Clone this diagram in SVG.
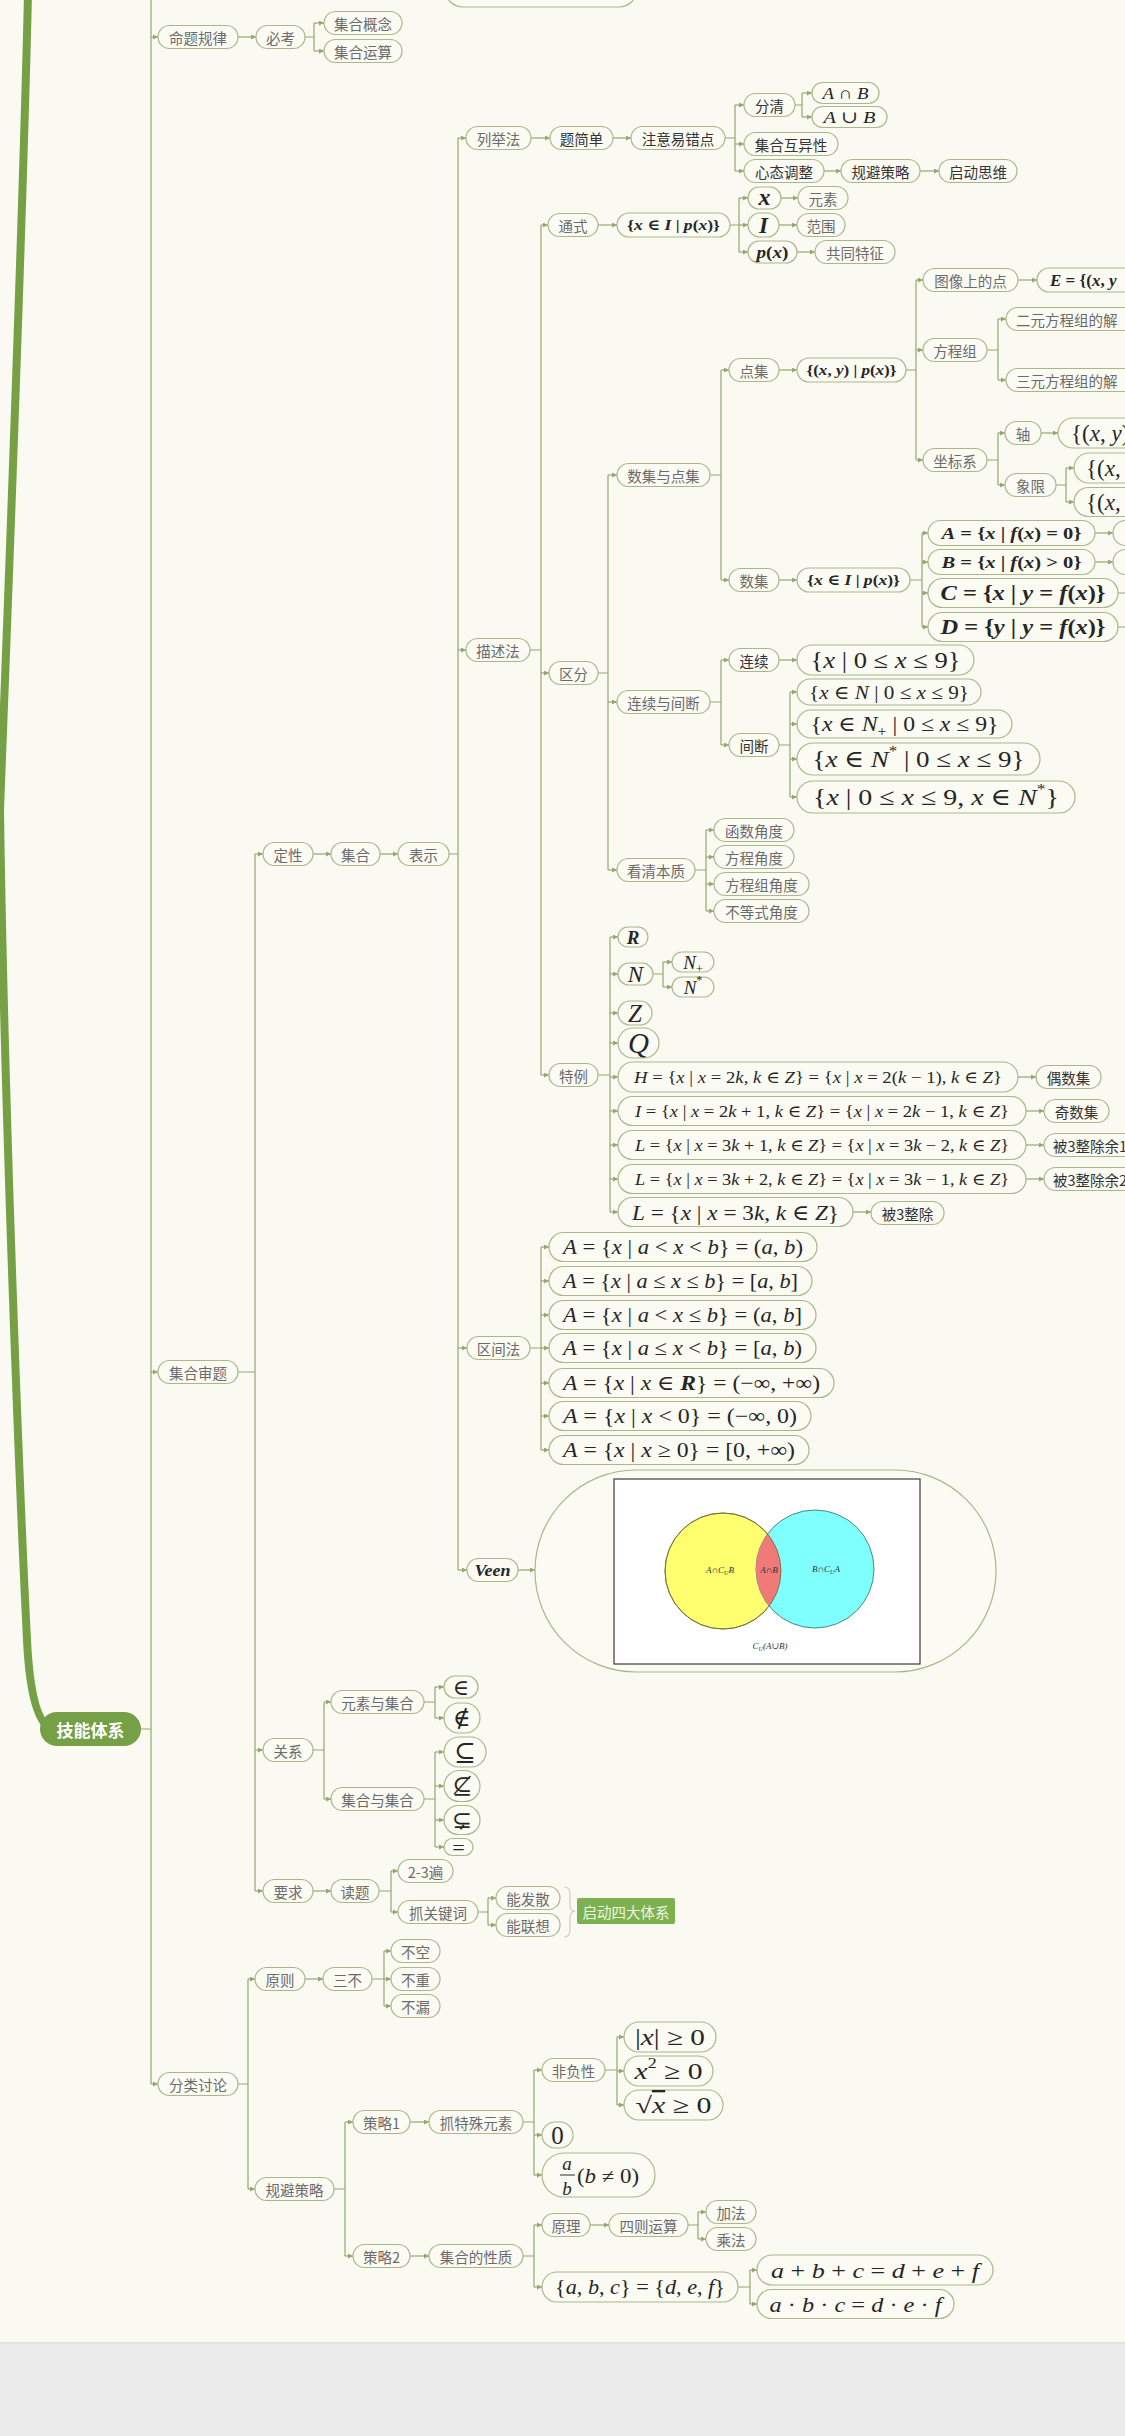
<svg xmlns="http://www.w3.org/2000/svg" width="1125" height="2436" viewBox="0 0 1125 2436">
<style>
.n rect{fill:#fbfbf4;stroke:#a8b88a;stroke-width:1.2}
.t{font-family:"Noto Sans CJK SC","Noto Sans",sans-serif;font-size:14.5px;fill:#6b6b6b;text-anchor:middle;dominant-baseline:central}
.d{fill:#333}
.m{font-family:"Liberation Serif","DejaVu Serif",serif;fill:#262626;text-anchor:middle;dominant-baseline:central}
.v{font-style:italic}
.b{font-weight:bold}
.s{text-anchor:start}
.c path{fill:none;stroke:#93a86e;stroke-width:1.2}
.c .a{marker-end:url(#ah)}
.vl{font-family:"Liberation Serif","DejaVu Serif",serif;font-size:9px;font-style:italic;fill:#333;text-anchor:middle;dominant-baseline:central}
</style>
<defs>
<marker id="ah" viewBox="0 0 6 6" refX="6" refY="3" markerWidth="5" markerHeight="5" markerUnits="userSpaceOnUse" orient="auto"><path d="M0 0L6 3L0 6z" fill="#93a86e"/></marker>
<clipPath id="yc"><circle cx="723" cy="1571" r="58"/></clipPath>
</defs>
<rect width="1125" height="2436" fill="#fafaf2"/>
<rect y="2343" width="1125" height="93" fill="#ebebeb"/>
<line x1="0" y1="2343" x2="1125" y2="2343" stroke="#e2e2de" stroke-width="2"/>

<path d="M28 -5C22 250 8 600 0 810C4 1100 20 1500 27 1640Q31 1722 52 1729" fill="none" stroke="#76a045" stroke-width="8"/>

<g id="connectors" class="c">
<path d="M151 0V2084M141 1729H151"/>
<path d="M305 37H314M314 23V51"/>
<path d="M238 1372H255M255 854V1891"/>
<path d="M449 854H458M458 138V1570"/>
<path d="M725 138H735M735 105V171"/>
<path d="M795 105H802M802 93V117"/>
<path d="M530 650H541M541 225V1075"/>
<path d="M730 225H739M739 198V252"/>
<path d="M598 673H608M608 475V870"/>
<path d="M710 475H721M721 370V580"/>
<path d="M906 370H916M916 280V460"/>
<path d="M987 350H998M998 319V380"/>
<path d="M987 460H998M998 433V485"/>
<path d="M1056 485H1066M1066 468V502"/>
<path d="M910 580H922M922 533V627"/>
<path d="M1118 593H1125M1118 627H1125"/>
<path d="M710 702H721M721 660V745"/>
<path d="M779 745H790M790 692V797"/>
<path d="M695 870H706M706 830V911"/>
<path d="M598 1075H610M610 937V1212"/>
<path d="M653 974H663M663 962V987"/>
<path d="M530 1348H541M541 1247V1450"/>
<path d="M313 1750H324M324 1702V1799"/>
<path d="M424 1702H435M435 1687V1718"/>
<path d="M424 1799H435M435 1752V1847"/>
<path d="M379 1891H391M391 1871V1912"/>
<path d="M478 1912H488M488 1898V1925"/>
<path d="M238 2084H248M248 1979V2189"/>
<path d="M372 1979H384M384 1951V2006"/>
<path d="M334 2189H345M345 2122V2256"/>
<path d="M523 2122H534M534 2070V2175"/>
<path d="M605 2070H617M617 2037V2105"/>
<path d="M523 2256H534M534 2225V2287"/>
<path d="M688 2225H698M698 2212V2239"/>
<path d="M738 2287H750M750 2270V2304"/>
<path class="a" d="M151 37H158"/><path class="a" d="M151 1372H158"/><path class="a" d="M151 2084H158"/>
<path class="a" d="M238 37H256"/>
<path class="a" d="M314 23H324"/><path class="a" d="M314 51H324"/>
<path class="a" d="M255 854H263"/><path class="a" d="M255 1750H263"/><path class="a" d="M255 1891H263"/>
<path class="a" d="M313 854H331"/><path class="a" d="M380 854H398"/>
<path class="a" d="M458 138H466"/><path class="a" d="M458 650H466"/><path class="a" d="M458 1348H467"/><path class="a" d="M458 1570H467"/>
<path class="a" d="M531 138H550"/><path class="a" d="M613 138H631"/>
<path class="a" d="M735 105H744"/><path class="a" d="M735 144H744"/><path class="a" d="M735 171H744"/>
<path class="a" d="M802 93H812"/><path class="a" d="M802 117H812"/>
<path class="a" d="M824 171H841"/><path class="a" d="M920 171H939"/>
<path class="a" d="M541 225H548"/><path class="a" d="M541 673H549"/><path class="a" d="M541 1075H549"/>
<path class="a" d="M598 225H617"/>
<path class="a" d="M739 198H748"/><path class="a" d="M739 225H748"/><path class="a" d="M739 252H748"/>
<path class="a" d="M781 198H798"/><path class="a" d="M779 225H797"/><path class="a" d="M797 252H815"/>
<path class="a" d="M608 475H617"/><path class="a" d="M608 702H617"/><path class="a" d="M608 870H617"/>
<path class="a" d="M721 370H729"/><path class="a" d="M721 580H729"/>
<path class="a" d="M779 370H797"/>
<path class="a" d="M916 280H923"/><path class="a" d="M916 350H923"/><path class="a" d="M916 460H923"/>
<path class="a" d="M1018 280H1037"/>
<path class="a" d="M998 319H1006"/><path class="a" d="M998 380H1006"/>
<path class="a" d="M998 433H1005"/><path class="a" d="M998 485H1005"/>
<path class="a" d="M1041 433H1058"/>
<path class="a" d="M1066 468H1074"/><path class="a" d="M1066 502H1074"/>
<path class="a" d="M779 580H797"/>
<path class="a" d="M922 533H928"/><path class="a" d="M922 562H928"/><path class="a" d="M922 593H928"/><path class="a" d="M922 627H928"/>
<path class="a" d="M1095 533H1113"/><path class="a" d="M1095 562H1113"/>
<path class="a" d="M721 660H729"/><path class="a" d="M721 745H729"/>
<path class="a" d="M779 660H797"/>
<path class="a" d="M790 692H797"/><path class="a" d="M790 724H797"/><path class="a" d="M790 759H797"/><path class="a" d="M790 797H797"/>
<path class="a" d="M706 830H714"/><path class="a" d="M706 857H714"/><path class="a" d="M706 884H714"/><path class="a" d="M706 911H714"/>
<path class="a" d="M610 937H618"/><path class="a" d="M610 974H618"/><path class="a" d="M610 1013H618"/><path class="a" d="M610 1043H618"/><path class="a" d="M610 1077H618"/><path class="a" d="M610 1111H618"/><path class="a" d="M610 1145H618"/><path class="a" d="M610 1179H618"/><path class="a" d="M610 1212H618"/>
<path class="a" d="M663 962H672"/><path class="a" d="M663 987H672"/>
<path class="a" d="M1018 1077H1036"/><path class="a" d="M1026 1111H1044"/><path class="a" d="M1026 1145H1044"/><path class="a" d="M1026 1179H1044"/><path class="a" d="M853 1212H871"/>
<path class="a" d="M541 1247H549"/><path class="a" d="M541 1281H549"/><path class="a" d="M541 1315H549"/><path class="a" d="M541 1348H549"/><path class="a" d="M541 1383H549"/><path class="a" d="M541 1416H549"/><path class="a" d="M541 1450H549"/>
<path class="a" d="M518 1570H535"/>
<path class="a" d="M324 1702H331"/><path class="a" d="M324 1799H331"/>
<path class="a" d="M435 1687H444"/><path class="a" d="M435 1718H444"/><path class="a" d="M435 1752H444"/><path class="a" d="M435 1786H444"/><path class="a" d="M435 1820H444"/><path class="a" d="M435 1847H444"/>
<path class="a" d="M313 1891H331"/>
<path class="a" d="M391 1871H398"/><path class="a" d="M391 1912H398"/>
<path class="a" d="M488 1898H496"/><path class="a" d="M488 1925H496"/>
<path class="a" d="M248 1979H255"/><path class="a" d="M248 2189H255"/>
<path class="a" d="M305 1979H323"/>
<path class="a" d="M384 1951H391"/><path class="a" d="M384 1979H391"/><path class="a" d="M384 2006H391"/>
<path class="a" d="M345 2122H353"/><path class="a" d="M345 2256H353"/>
<path class="a" d="M410 2122H429"/><path class="a" d="M410 2256H429"/>
<path class="a" d="M534 2070H542"/><path class="a" d="M534 2135H542"/><path class="a" d="M534 2175H542"/>
<path class="a" d="M617 2037H624"/><path class="a" d="M617 2071H624"/><path class="a" d="M617 2105H624"/>
<path class="a" d="M534 2225H542"/><path class="a" d="M534 2287H542"/>
<path class="a" d="M590 2225H609"/>
<path class="a" d="M698 2212H706"/><path class="a" d="M698 2239H706"/>
<path class="a" d="M750 2270H757"/><path class="a" d="M750 2304H757"/>
</g>

<g id="n-top" class="n"><rect x="445" y="-30" width="192" height="37" rx="18"/></g>
<g id="n-mtgl" class="n"><rect x="158" y="25.5" width="80" height="23" rx="11.5"/><text class="t" x="198" y="37">命题规律</text></g>
<g id="n-bk" class="n"><rect x="256" y="25.5" width="49" height="23" rx="11.5"/><text class="t" x="280.5" y="37">必考</text></g>
<g id="n-jhgn" class="n"><rect x="324" y="11.5" width="78" height="23" rx="11.5"/><text class="t" x="363" y="23">集合概念</text></g>
<g id="n-jhys" class="n"><rect x="324" y="39.5" width="78" height="23" rx="11.5"/><text class="t" x="363" y="51">集合运算</text></g>

<g id="n-lje" class="n"><rect x="466" y="126.5" width="65" height="23" rx="11.5"/><text class="t" x="498.5" y="138">列举法</text></g>
<g id="n-tjd" class="n"><rect x="550" y="126.5" width="63" height="23" rx="11.5"/><text class="t d" x="581.5" y="138">题简单</text></g>
<g id="n-zyycd" class="n"><rect x="631" y="126.5" width="94" height="23" rx="11.5"/><text class="t d" x="678" y="138">注意易错点</text></g>
<g id="n-fq" class="n"><rect x="744" y="93.5" width="51" height="23" rx="11.5"/><text class="t d" x="769.5" y="105">分清</text></g>
<g id="n-anb" class="n"><rect x="812" y="82.5" width="67" height="21" rx="10.5"/><text class="m" x="845.5" y="93" style="font-size:17px" textLength="46" lengthAdjust="spacingAndGlyphs"><tspan class="v">A</tspan> ∩ <tspan class="v">B</tspan></text></g>
<g id="n-aub" class="n"><rect x="812" y="106.5" width="75" height="21" rx="10.5"/><text class="m" x="849.5" y="117" style="font-size:17px" textLength="52" lengthAdjust="spacingAndGlyphs"><tspan class="v">A</tspan> ∪ <tspan class="v">B</tspan></text></g>
<g id="n-jhhyx" class="n"><rect x="744" y="132.5" width="94" height="23" rx="11.5"/><text class="t d" x="791" y="144">集合互异性</text></g>
<g id="n-xttz" class="n"><rect x="744" y="159.5" width="80" height="23" rx="11.5"/><text class="t d" x="784" y="171">心态调整</text></g>
<g id="n-gbcl1" class="n"><rect x="841" y="159.5" width="79" height="23" rx="11.5"/><text class="t d" x="880.5" y="171">规避策略</text></g>
<g id="n-qdsw" class="n"><rect x="939" y="159.5" width="78" height="23" rx="11.5"/><text class="t d" x="978" y="171">启动思维</text></g>

<g id="n-msf" class="n"><rect x="466" y="638.5" width="64" height="23" rx="11.5"/><text class="t" x="498" y="650">描述法</text></g>
<g id="n-ts" class="n"><rect x="548" y="213.5" width="50" height="23" rx="11.5"/><text class="t" x="573" y="225">通式</text></g>
<g id="n-set1" class="n"><rect x="617" y="213" width="113" height="24" rx="12"/><text class="m b" x="673.5" y="225" style="font-size:15px" textLength="93" lengthAdjust="spacingAndGlyphs">{<tspan class="v">x</tspan> ∈ <tspan class="v">I</tspan> | <tspan class="v">p</tspan>(<tspan class="v">x</tspan>)}</text></g>
<g id="n-x" class="n"><rect x="748" y="187" width="33" height="22" rx="11"/><text class="m v b" x="764.5" y="197" style="font-size:24px">x</text></g>
<g id="n-ys" class="n"><rect x="798" y="186.5" width="50" height="23" rx="11.5"/><text class="t" x="823" y="198">元素</text></g>
<g id="n-I" class="n"><rect x="748" y="213" width="31" height="24" rx="12"/><text class="m v b" x="763.5" y="225" style="font-size:23px">I</text></g>
<g id="n-fw" class="n"><rect x="797" y="213.5" width="48" height="23" rx="11.5"/><text class="t" x="821" y="225">范围</text></g>
<g id="n-px" class="n"><rect x="748" y="241" width="49" height="22" rx="11"/><text class="m b" x="772.5" y="252" style="font-size:16px" textLength="32" lengthAdjust="spacingAndGlyphs"><tspan class="v">p</tspan>(<tspan class="v">x</tspan>)</text></g>
<g id="n-gttz" class="n"><rect x="815" y="240.5" width="80" height="23" rx="11.5"/><text class="t" x="855" y="252">共同特征</text></g>

<g id="n-qf" class="n"><rect x="549" y="661.5" width="49" height="23" rx="11.5"/><text class="t" x="573.5" y="673">区分</text></g>
<g id="n-sjydj" class="n"><rect x="617" y="463.5" width="93" height="23" rx="11.5"/><text class="t" x="663.5" y="475">数集与点集</text></g>
<g id="n-dj" class="n"><rect x="729" y="358.5" width="50" height="23" rx="11.5"/><text class="t" x="754" y="370">点集</text></g>
<g id="n-dset" class="n"><rect x="797" y="358" width="109" height="24" rx="12"/><text class="m b" x="851.5" y="370" style="font-size:14px" textLength="90" lengthAdjust="spacingAndGlyphs">{(<tspan class="v">x</tspan>, <tspan class="v">y</tspan>) | <tspan class="v">p</tspan>(<tspan class="v">x</tspan>)}</text></g>
<g id="n-txsdd" class="n"><rect x="923" y="268.5" width="95" height="23" rx="11.5"/><text class="t" x="970.5" y="280">图像上的点</text></g>
<g id="n-E" class="n"><rect x="1037" y="268" width="200" height="24" rx="12"/><text class="m b s" x="1050" y="280" style="font-size:17px"><tspan class="v">E</tspan> = {(<tspan class="v">x</tspan>, <tspan class="v">y</tspan></text></g>
<g id="n-fcz" class="n"><rect x="923" y="338.5" width="64" height="23" rx="11.5"/><text class="t" x="955" y="350">方程组</text></g>
<g id="n-eyfcz" class="n"><rect x="1006" y="307.5" width="140" height="23" rx="11.5"/><text class="t s" x="1016" y="319">二元方程组的解</text></g>
<g id="n-syfcz" class="n"><rect x="1006" y="368.5" width="140" height="23" rx="11.5"/><text class="t s" x="1016" y="380">三元方程组的解</text></g>
<g id="n-zbx" class="n"><rect x="923" y="448.5" width="64" height="23" rx="11.5"/><text class="t" x="955" y="460">坐标系</text></g>
<g id="n-z" class="n"><rect x="1005" y="421.5" width="36" height="23" rx="11.5"/><text class="t" x="1023" y="433">轴</text></g>
<g id="n-zset" class="n"><rect x="1058" y="418" width="150" height="30" rx="15"/><text class="m s" x="1071" y="433" style="font-size:23px">{(<tspan class="v">x</tspan>, <tspan class="v">y</tspan>)</text></g>
<g id="n-xx" class="n"><rect x="1005" y="473.5" width="51" height="23" rx="11.5"/><text class="t" x="1030.5" y="485">象限</text></g>
<g id="n-xset1" class="n"><rect x="1074" y="453" width="120" height="30" rx="15"/><text class="m s" x="1086" y="468" style="font-size:23px">{(<tspan class="v">x</tspan>,</text></g>
<g id="n-xset2" class="n"><rect x="1074" y="487.5" width="120" height="29" rx="14.5"/><text class="m s" x="1086" y="502" style="font-size:23px">{(<tspan class="v">x</tspan>,</text></g>
<g id="n-sj" class="n"><rect x="729" y="568.5" width="50" height="23" rx="11.5"/><text class="t" x="754" y="580">数集</text></g>
<g id="n-set2" class="n"><rect x="797" y="568" width="113" height="24" rx="12"/><text class="m b" x="853.5" y="580" style="font-size:15px" textLength="93" lengthAdjust="spacingAndGlyphs">{<tspan class="v">x</tspan> ∈ <tspan class="v">I</tspan> | <tspan class="v">p</tspan>(<tspan class="v">x</tspan>)}</text></g>
<g id="n-A" class="n"><rect x="928" y="520.5" width="167" height="25" rx="12.5"/><text class="m b" x="1011.5" y="533" style="font-size:17px" textLength="140" lengthAdjust="spacingAndGlyphs"><tspan class="v">A</tspan> = {<tspan class="v">x</tspan> | <tspan class="v">f</tspan>(<tspan class="v">x</tspan>) = 0}</text></g>
<g id="n-A2" class="n"><rect x="1113" y="520.5" width="60" height="25" rx="12.5"/></g>
<g id="n-B" class="n"><rect x="928" y="549.5" width="167" height="25" rx="12.5"/><text class="m b" x="1011.5" y="562" style="font-size:17px" textLength="140" lengthAdjust="spacingAndGlyphs"><tspan class="v">B</tspan> = {<tspan class="v">x</tspan> | <tspan class="v">f</tspan>(<tspan class="v">x</tspan>) &gt; 0}</text></g>
<g id="n-B2" class="n"><rect x="1113" y="549.5" width="60" height="25" rx="12.5"/></g>
<g id="n-C" class="n"><rect x="928" y="578.5" width="190" height="29" rx="14.5"/><text class="m b" x="1023" y="593" style="font-size:21px" textLength="165" lengthAdjust="spacingAndGlyphs"><tspan class="v">C</tspan> = {<tspan class="v">x</tspan> | <tspan class="v">y</tspan> = <tspan class="v">f</tspan>(<tspan class="v">x</tspan>)}</text></g>
<g id="n-D" class="n"><rect x="928" y="612.5" width="190" height="29" rx="14.5"/><text class="m b" x="1023" y="627" style="font-size:21px" textLength="165" lengthAdjust="spacingAndGlyphs"><tspan class="v">D</tspan> = {<tspan class="v">y</tspan> | <tspan class="v">y</tspan> = <tspan class="v">f</tspan>(<tspan class="v">x</tspan>)}</text></g>

<g id="n-lxyjd" class="n"><rect x="617" y="690.5" width="93" height="23" rx="11.5"/><text class="t" x="663.5" y="702">连续与间断</text></g>
<g id="n-lx" class="n"><rect x="729" y="648.5" width="50" height="23" rx="11.5"/><text class="t d" x="754" y="660">连续</text></g>
<g id="n-lxset" class="n"><rect x="797" y="645" width="177" height="30" rx="15"/><text class="m" x="885.5" y="660" style="font-size:23px" textLength="150" lengthAdjust="spacingAndGlyphs">{<tspan class="v">x</tspan> | 0 ≤ <tspan class="v">x</tspan> ≤ 9}</text></g>
<g id="n-jd" class="n"><rect x="729" y="733.5" width="50" height="23" rx="11.5"/><text class="t d" x="754" y="745">间断</text></g>
<g id="n-jd1" class="n"><rect x="797" y="679" width="184" height="26" rx="13"/><text class="m" x="889" y="692" style="font-size:19px" textLength="160" lengthAdjust="spacingAndGlyphs">{<tspan class="v">x</tspan> ∈ <tspan class="v">N</tspan> | 0 ≤ <tspan class="v">x</tspan> ≤ 9}</text></g>
<g id="n-jd2" class="n"><rect x="797" y="710" width="215" height="28" rx="14"/><text class="m" x="904.5" y="724" style="font-size:21px" textLength="188" lengthAdjust="spacingAndGlyphs">{<tspan class="v">x</tspan> ∈ <tspan class="v">N</tspan><tspan baseline-shift="sub" style="font-size:14px">+</tspan> | 0 ≤ <tspan class="v">x</tspan> ≤ 9}</text></g>
<g id="n-jd3" class="n"><rect x="797" y="743" width="243" height="32" rx="16"/><text class="m" x="918.5" y="759" style="font-size:24px" textLength="212" lengthAdjust="spacingAndGlyphs">{<tspan class="v">x</tspan> ∈ <tspan class="v">N</tspan><tspan baseline-shift="super" style="font-size:15px">*</tspan> | 0 ≤ <tspan class="v">x</tspan> ≤ 9}</text></g>
<g id="n-jd4" class="n"><rect x="797" y="781" width="278" height="32" rx="16"/><text class="m" x="936" y="797" style="font-size:24px" textLength="246" lengthAdjust="spacingAndGlyphs">{<tspan class="v">x</tspan> | 0 ≤ <tspan class="v">x</tspan> ≤ 9, <tspan class="v">x</tspan> ∈ <tspan class="v">N</tspan><tspan baseline-shift="super" style="font-size:15px">*</tspan>}</text></g>
<g id="n-kqbz" class="n"><rect x="617" y="858.5" width="78" height="23" rx="11.5"/><text class="t" x="656" y="870">看清本质</text></g>
<g id="n-hsjd" class="n"><rect x="714" y="818.5" width="80" height="23" rx="11.5"/><text class="t" x="754" y="830">函数角度</text></g>
<g id="n-fcjd" class="n"><rect x="714" y="845.5" width="80" height="23" rx="11.5"/><text class="t" x="754" y="857">方程角度</text></g>
<g id="n-fczjd" class="n"><rect x="714" y="872.5" width="95" height="23" rx="11.5"/><text class="t" x="761.5" y="884">方程组角度</text></g>
<g id="n-bdsjd" class="n"><rect x="714" y="899.5" width="95" height="23" rx="11.5"/><text class="t" x="761.5" y="911">不等式角度</text></g>

<g id="n-tl" class="n"><rect x="549" y="1063.5" width="49" height="23" rx="11.5"/><text class="t" x="573.5" y="1075">特例</text></g>
<g id="n-R" class="n"><rect x="618" y="927" width="30" height="20" rx="10"/><text class="m v b" x="633" y="937" style="font-size:19px">R</text></g>
<g id="n-N" class="n"><rect x="618" y="963" width="35" height="22" rx="11"/><text class="m v" x="635.5" y="974" style="font-size:23px">N</text></g>
<g id="n-Np" class="n"><rect x="672" y="952" width="42" height="20" rx="10"/><text class="m" x="693" y="962" style="font-size:19px"><tspan class="v">N</tspan><tspan baseline-shift="sub" style="font-size:12px">+</tspan></text></g>
<g id="n-Ns" class="n"><rect x="672" y="977" width="42" height="20" rx="10"/><text class="m" x="693" y="987" style="font-size:19px"><tspan class="v">N</tspan><tspan baseline-shift="super" style="font-size:12px">*</tspan></text></g>
<g id="n-Z" class="n"><rect x="618" y="1001" width="34" height="24" rx="12"/><text class="m v" x="635" y="1013" style="font-size:25px">Z</text></g>
<g id="n-Q" class="n"><rect x="618" y="1028" width="41" height="30" rx="15"/><text class="m v" x="638.5" y="1043" style="font-size:29px">Q</text></g>
<g id="n-H" class="n"><rect x="618" y="1062" width="400" height="30" rx="15"/><text class="m" x="818" y="1077" style="font-size:17px" textLength="368" lengthAdjust="spacingAndGlyphs"><tspan class="v">H</tspan> = {<tspan class="v">x</tspan> | <tspan class="v">x</tspan> = 2<tspan class="v">k</tspan>, <tspan class="v">k</tspan> ∈ <tspan class="v">Z</tspan>} = {<tspan class="v">x</tspan> | <tspan class="v">x</tspan> = 2(<tspan class="v">k</tspan> − 1), <tspan class="v">k</tspan> ∈ <tspan class="v">Z</tspan>}</text></g>
<g id="n-osj" class="n"><rect x="1036" y="1065.5" width="65" height="23" rx="11.5"/><text class="t d" x="1068.5" y="1077">偶数集</text></g>
<g id="n-Iset" class="n"><rect x="618" y="1096.5" width="408" height="29" rx="14.5"/><text class="m" x="822" y="1111" style="font-size:17px" textLength="374" lengthAdjust="spacingAndGlyphs"><tspan class="v">I</tspan> = {<tspan class="v">x</tspan> | <tspan class="v">x</tspan> = 2<tspan class="v">k</tspan> + 1, <tspan class="v">k</tspan> ∈ <tspan class="v">Z</tspan>} = {<tspan class="v">x</tspan> | <tspan class="v">x</tspan> = 2<tspan class="v">k</tspan> − 1, <tspan class="v">k</tspan> ∈ <tspan class="v">Z</tspan>}</text></g>
<g id="n-jsj" class="n"><rect x="1044" y="1099.5" width="65" height="23" rx="11.5"/><text class="t d" x="1076.5" y="1111">奇数集</text></g>
<g id="n-L1" class="n"><rect x="618" y="1130.5" width="408" height="29" rx="14.5"/><text class="m" x="822" y="1145" style="font-size:17px" textLength="374" lengthAdjust="spacingAndGlyphs"><tspan class="v">L</tspan> = {<tspan class="v">x</tspan> | <tspan class="v">x</tspan> = 3<tspan class="v">k</tspan> + 1, <tspan class="v">k</tspan> ∈ <tspan class="v">Z</tspan>} = {<tspan class="v">x</tspan> | <tspan class="v">x</tspan> = 3<tspan class="v">k</tspan> − 2, <tspan class="v">k</tspan> ∈ <tspan class="v">Z</tspan>}</text></g>
<g id="n-y1" class="n"><rect x="1044" y="1133.5" width="100" height="23" rx="11.5"/><text class="t d s" x="1053" y="1145">被3整除余1</text></g>
<g id="n-L2" class="n"><rect x="618" y="1164.5" width="408" height="29" rx="14.5"/><text class="m" x="822" y="1179" style="font-size:17px" textLength="374" lengthAdjust="spacingAndGlyphs"><tspan class="v">L</tspan> = {<tspan class="v">x</tspan> | <tspan class="v">x</tspan> = 3<tspan class="v">k</tspan> + 2, <tspan class="v">k</tspan> ∈ <tspan class="v">Z</tspan>} = {<tspan class="v">x</tspan> | <tspan class="v">x</tspan> = 3<tspan class="v">k</tspan> − 1, <tspan class="v">k</tspan> ∈ <tspan class="v">Z</tspan>}</text></g>
<g id="n-y2" class="n"><rect x="1044" y="1167.5" width="100" height="23" rx="11.5"/><text class="t d s" x="1053" y="1179">被3整除余2</text></g>
<g id="n-L0" class="n"><rect x="618" y="1197.5" width="235" height="29" rx="14.5"/><text class="m" x="735.5" y="1212" style="font-size:22px" textLength="207" lengthAdjust="spacingAndGlyphs"><tspan class="v">L</tspan> = {<tspan class="v">x</tspan> | <tspan class="v">x</tspan> = 3<tspan class="v">k</tspan>, <tspan class="v">k</tspan> ∈ <tspan class="v">Z</tspan>}</text></g>
<g id="n-b3" class="n"><rect x="871" y="1201.5" width="73" height="23" rx="11.5"/><text class="t d" x="907.5" y="1213">被3整除</text></g>

<g id="n-qjf" class="n"><rect x="467" y="1336.5" width="63" height="23" rx="11.5"/><text class="t" x="498.5" y="1348">区间法</text></g>
<g id="n-q1" class="n"><rect x="549" y="1232.5" width="268" height="29" rx="14.5"/><text class="m" x="683" y="1247" style="font-size:21px" textLength="240" lengthAdjust="spacingAndGlyphs"><tspan class="v">A</tspan> = {<tspan class="v">x</tspan> | <tspan class="v">a</tspan> &lt; <tspan class="v">x</tspan> &lt; <tspan class="v">b</tspan>} = (<tspan class="v">a</tspan>, <tspan class="v">b</tspan>)</text></g>
<g id="n-q2" class="n"><rect x="549" y="1266.5" width="263" height="29" rx="14.5"/><text class="m" x="680.5" y="1281" style="font-size:21px" textLength="235" lengthAdjust="spacingAndGlyphs"><tspan class="v">A</tspan> = {<tspan class="v">x</tspan> | <tspan class="v">a</tspan> ≤ <tspan class="v">x</tspan> ≤ <tspan class="v">b</tspan>} = [<tspan class="v">a</tspan>, <tspan class="v">b</tspan>]</text></g>
<g id="n-q3" class="n"><rect x="549" y="1300.5" width="267" height="29" rx="14.5"/><text class="m" x="682.5" y="1315" style="font-size:21px" textLength="239" lengthAdjust="spacingAndGlyphs"><tspan class="v">A</tspan> = {<tspan class="v">x</tspan> | <tspan class="v">a</tspan> &lt; <tspan class="v">x</tspan> ≤ <tspan class="v">b</tspan>} = (<tspan class="v">a</tspan>, <tspan class="v">b</tspan>]</text></g>
<g id="n-q4" class="n"><rect x="549" y="1333.5" width="267" height="29" rx="14.5"/><text class="m" x="682.5" y="1348" style="font-size:21px" textLength="239" lengthAdjust="spacingAndGlyphs"><tspan class="v">A</tspan> = {<tspan class="v">x</tspan> | <tspan class="v">a</tspan> ≤ <tspan class="v">x</tspan> &lt; <tspan class="v">b</tspan>} = [<tspan class="v">a</tspan>, <tspan class="v">b</tspan>)</text></g>
<g id="n-q5" class="n"><rect x="549" y="1368.5" width="285" height="29" rx="14.5"/><text class="m" x="691.5" y="1383" style="font-size:21px" textLength="257" lengthAdjust="spacingAndGlyphs"><tspan class="v">A</tspan> = {<tspan class="v">x</tspan> | <tspan class="v">x</tspan> ∈ <tspan class="v b">R</tspan>} = (−∞, +∞)</text></g>
<g id="n-q6" class="n"><rect x="549" y="1401.5" width="262" height="29" rx="14.5"/><text class="m" x="680" y="1416" style="font-size:21px" textLength="234" lengthAdjust="spacingAndGlyphs"><tspan class="v">A</tspan> = {<tspan class="v">x</tspan> | <tspan class="v">x</tspan> &lt; 0} = (−∞, 0)</text></g>
<g id="n-q7" class="n"><rect x="549" y="1435.5" width="260" height="29" rx="14.5"/><text class="m" x="679" y="1450" style="font-size:21px" textLength="232" lengthAdjust="spacingAndGlyphs"><tspan class="v">A</tspan> = {<tspan class="v">x</tspan> | <tspan class="v">x</tspan> ≥ 0} = [0, +∞)</text></g>

<g id="n-veen" class="n"><rect x="467" y="1558.5" width="51" height="23" rx="11.5"/><text class="m v b" x="492.5" y="1570" style="font-size:16px" textLength="36" lengthAdjust="spacingAndGlyphs">Veen</text></g>
<g id="n-venn" class="n">
<rect x="535" y="1470" width="461" height="202" rx="101"/>
<rect x="614" y="1479" width="306" height="185" style="fill:#fff;stroke:#3a3a3a;stroke-width:1.2"/>
<circle cx="723" cy="1571" r="58" fill="#ffff70" stroke="#6a6a30" stroke-width="0.8"/>
<circle cx="815" cy="1569" r="59" fill="#80ffff" stroke="#306868" stroke-width="0.8"/>
<circle cx="815" cy="1569" r="59" fill="#f07a78" clip-path="url(#yc)"/>
<circle cx="723" cy="1571" r="58" fill="none" stroke="#6a6a30" stroke-width="0.8"/>
<text class="vl" x="720" y="1570">A∩C<tspan baseline-shift="sub" style="font-size:6px">U</tspan>B</text>
<text class="vl" x="769" y="1570">A∩B</text>
<text class="vl" x="826" y="1569">B∩C<tspan baseline-shift="sub" style="font-size:6px">U</tspan>A</text>
<text class="vl" x="770" y="1646">C<tspan baseline-shift="sub" style="font-size:6px">U</tspan>(A∪B)</text>
</g>

<g id="n-jnrx"><rect x="40" y="1712" width="101" height="34" rx="17" fill="#76a045"/><text class="t b" x="90.5" y="1729" style="fill:#fff;font-size:17px">技能体系</text></g>
<g id="n-jhst" class="n"><rect x="158" y="1360.5" width="80" height="23" rx="11.5"/><text class="t" x="198" y="1372">集合审题</text></g>
<g id="n-dx" class="n"><rect x="263" y="842.5" width="50" height="23" rx="11.5"/><text class="t" x="288" y="854">定性</text></g>
<g id="n-jh" class="n"><rect x="331" y="842.5" width="49" height="23" rx="11.5"/><text class="t" x="355.5" y="854">集合</text></g>
<g id="n-bs" class="n"><rect x="398" y="842.5" width="51" height="23" rx="11.5"/><text class="t" x="423.5" y="854">表示</text></g>
<g id="n-gx" class="n"><rect x="263" y="1738.5" width="50" height="23" rx="11.5"/><text class="t" x="288" y="1750">关系</text></g>
<g id="n-ysyjh" class="n"><rect x="331" y="1690.5" width="93" height="23" rx="11.5"/><text class="t" x="377.5" y="1702">元素与集合</text></g>
<g id="n-jhyjh" class="n"><rect x="331" y="1787.5" width="93" height="23" rx="11.5"/><text class="t" x="377.5" y="1799">集合与集合</text></g>
<g id="n-in" class="n"><rect x="444" y="1676" width="34" height="22" rx="11"/><text class="m" x="461" y="1687" style="font-size:22px">∈</text></g>
<g id="n-notin" class="n"><rect x="444" y="1703" width="36" height="30" rx="15"/><text class="m" x="462" y="1718" style="font-size:24px">∉</text></g>
<g id="n-sub" class="n"><rect x="444" y="1737" width="42" height="30" rx="15"/><text class="m" x="465" y="1752" style="font-size:26px">⊆</text></g>
<g id="n-nsub" class="n"><rect x="444" y="1770.5" width="36" height="31" rx="15.5"/><text class="m" x="462" y="1786" style="font-size:24px">⊈</text></g>
<g id="n-psub" class="n"><rect x="444" y="1805.5" width="36" height="29" rx="14.5"/><text class="m" x="462" y="1820" style="font-size:24px">⊊</text></g>
<g id="n-eq" class="n"><rect x="444" y="1838.5" width="29" height="17" rx="8.5"/><text class="m" x="458.5" y="1847" style="font-size:22px">=</text></g>
<g id="n-yq" class="n"><rect x="263" y="1879.5" width="50" height="23" rx="11.5"/><text class="t" x="288" y="1891">要求</text></g>
<g id="n-dt" class="n"><rect x="331" y="1879.5" width="48" height="23" rx="11.5"/><text class="t" x="355" y="1891">读题</text></g>
<g id="n-23b" class="n"><rect x="398" y="1859.5" width="55" height="23" rx="11.5"/><text class="t" x="425.5" y="1871">2-3遍</text></g>
<g id="n-zgjc" class="n"><rect x="398" y="1900.5" width="80" height="23" rx="11.5"/><text class="t" x="438" y="1912">抓关键词</text></g>
<g id="n-nfs" class="n"><rect x="496" y="1886.5" width="64" height="23" rx="11.5"/><text class="t" x="528" y="1898">能发散</text></g>
<g id="n-nlx" class="n"><rect x="496" y="1913.5" width="64" height="23" rx="11.5"/><text class="t" x="528" y="1925">能联想</text></g>
<g id="n-brace"><path d="M564 1887Q570 1887 570 1894V1905Q570 1911.5 575 1911.5Q570 1911.5 570 1918V1930Q570 1937 564 1937" fill="none" stroke="#c9d1b6" stroke-width="1.2"/></g>
<g id="n-qdsdtx"><rect x="577" y="1898" width="98" height="26" rx="2" fill="#7db14f"/><text class="t" x="626" y="1911" style="fill:#edf6e0">启动四大体系</text></g>

<g id="n-fltl" class="n"><rect x="158" y="2072.5" width="80" height="23" rx="11.5"/><text class="t" x="198" y="2084">分类讨论</text></g>
<g id="n-yz" class="n"><rect x="255" y="1967.5" width="50" height="23" rx="11.5"/><text class="t" x="280" y="1979">原则</text></g>
<g id="n-sb" class="n"><rect x="323" y="1967.5" width="49" height="23" rx="11.5"/><text class="t" x="347.5" y="1979">三不</text></g>
<g id="n-bkong" class="n"><rect x="391" y="1939.5" width="49" height="23" rx="11.5"/><text class="t" x="415.5" y="1951">不空</text></g>
<g id="n-bz" class="n"><rect x="391" y="1967.5" width="49" height="23" rx="11.5"/><text class="t" x="415.5" y="1979">不重</text></g>
<g id="n-bl" class="n"><rect x="391" y="1994.5" width="49" height="23" rx="11.5"/><text class="t" x="415.5" y="2006">不漏</text></g>
<g id="n-gbcl2" class="n"><rect x="255" y="2177.5" width="79" height="23" rx="11.5"/><text class="t" x="294.5" y="2189">规避策略</text></g>
<g id="n-cl1" class="n"><rect x="353" y="2110.5" width="57" height="23" rx="11.5"/><text class="t" x="381.5" y="2122">策略1</text></g>
<g id="n-ztsys" class="n"><rect x="429" y="2110.5" width="94" height="23" rx="11.5"/><text class="t" x="476" y="2122">抓特殊元素</text></g>
<g id="n-ffx" class="n"><rect x="542" y="2058.5" width="63" height="23" rx="11.5"/><text class="t" x="573.5" y="2070">非负性</text></g>
<g id="n-abs" class="n"><rect x="624" y="2022" width="92" height="30" rx="15"/><text class="m" x="670" y="2037" style="font-size:23px" textLength="70" lengthAdjust="spacingAndGlyphs">|<tspan class="v">x</tspan>| ≥ 0</text></g>
<g id="n-sq" class="n"><rect x="624" y="2056" width="89" height="30" rx="15"/><text class="m" x="668.5" y="2071" style="font-size:23px" textLength="68" lengthAdjust="spacingAndGlyphs"><tspan class="v">x</tspan><tspan baseline-shift="super" style="font-size:14px">2</tspan> ≥ 0</text></g>
<g id="n-sqrt" class="n"><rect x="624" y="2090" width="99" height="30" rx="15"/><text class="m" x="673.5" y="2105" style="font-size:23px" textLength="76" lengthAdjust="spacingAndGlyphs">√<tspan class="v" text-decoration="overline">x</tspan> ≥ 0</text></g>
<g id="n-zero" class="n"><rect x="542" y="2122" width="31" height="26" rx="13"/><text class="m" x="557.5" y="2135" style="font-size:25px">0</text></g>
<g id="n-frac" class="n"><rect x="542" y="2153" width="113" height="44" rx="22"/><text class="m v" x="567" y="2163" style="font-size:19px">a</text><path d="M560 2175H575" stroke="#262626" stroke-width="1"/><text class="m v" x="567" y="2188" style="font-size:19px">b</text><text class="m s" x="577" y="2176" style="font-size:20px" textLength="62" lengthAdjust="spacingAndGlyphs">(<tspan class="v">b</tspan> ≠ 0)</text></g>
<g id="n-cl2" class="n"><rect x="353" y="2244.5" width="57" height="23" rx="11.5"/><text class="t" x="381.5" y="2256">策略2</text></g>
<g id="n-jhdxz" class="n"><rect x="429" y="2244.5" width="94" height="23" rx="11.5"/><text class="t" x="476" y="2256">集合的性质</text></g>
<g id="n-yl" class="n"><rect x="542" y="2213.5" width="48" height="23" rx="11.5"/><text class="t" x="566" y="2225">原理</text></g>
<g id="n-szys" class="n"><rect x="609" y="2213.5" width="79" height="23" rx="11.5"/><text class="t" x="648.5" y="2225">四则运算</text></g>
<g id="n-jf" class="n"><rect x="706" y="2200.5" width="50" height="23" rx="11.5"/><text class="t" x="731" y="2212">加法</text></g>
<g id="n-cf" class="n"><rect x="706" y="2227.5" width="50" height="23" rx="11.5"/><text class="t" x="731" y="2239">乘法</text></g>
<g id="n-abc" class="n"><rect x="542" y="2272" width="196" height="30" rx="15"/><text class="m" x="640" y="2287" style="font-size:21px" textLength="170" lengthAdjust="spacingAndGlyphs">{<tspan class="v">a</tspan>, <tspan class="v">b</tspan>, <tspan class="v">c</tspan>} = {<tspan class="v">d</tspan>, <tspan class="v">e</tspan>, <tspan class="v">f</tspan>}</text></g>
<g id="n-sum" class="n"><rect x="757" y="2255" width="236" height="30" rx="15"/><text class="m" x="875" y="2270" style="font-size:22px" textLength="208" lengthAdjust="spacingAndGlyphs"><tspan class="v">a</tspan> + <tspan class="v">b</tspan> + <tspan class="v">c</tspan> = <tspan class="v">d</tspan> + <tspan class="v">e</tspan> + <tspan class="v">f</tspan></text></g>
<g id="n-prod" class="n"><rect x="757" y="2289.5" width="197" height="29" rx="14.5"/><text class="m" x="855.5" y="2304" style="font-size:22px" textLength="172" lengthAdjust="spacingAndGlyphs"><tspan class="v">a</tspan> · <tspan class="v">b</tspan> · <tspan class="v">c</tspan> = <tspan class="v">d</tspan> · <tspan class="v">e</tspan> · <tspan class="v">f</tspan></text></g>
</svg>
